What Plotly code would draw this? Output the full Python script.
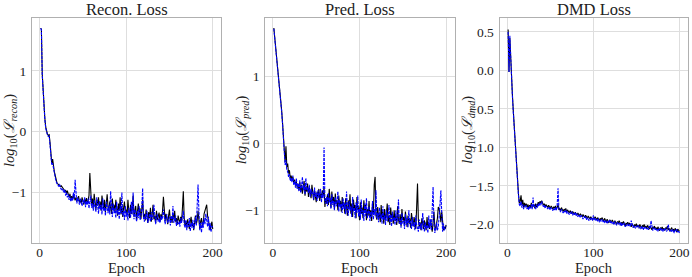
import plotly.graph_objects as go

epochs = list(range(1, 201))

recon_train = [
    1.70, 1.69, 0.95, 0.62, 0.38, 0.22, 0.08, -0.02, -0.04, -0.06, -0.05, -0.18, -0.35, -0.52, -0.45, -0.58, -0.66, -0.72, -0.80, -0.84,
    -0.86, -0.87, -0.88, -0.90, -0.89, -0.92, -0.93, -0.95, -0.98, -0.96, -1.02, -0.97, -1.05, -1.08, -1.02, -1.10, -1.06, -1.12, -1.04, -1.09,
    -1.13, -1.08, -1.15, -1.10, -1.06, -1.16, -1.12, -1.18, -1.08, -1.14, -1.20, -1.11, -1.17, -1.09, -1.19, -1.13, -1.05, -0.68, -1.15, -1.22,
    -1.10, -1.25, -1.02, -1.18, -1.28, -1.12, -1.21, -1.08, -1.26, -1.15, -1.30, -1.05, -1.20, -1.27, -1.12, -1.32, -1.18, -1.03, -1.24, -1.30,
    -1.15, -1.22, -1.35, -1.10, -1.28, -1.20, -1.33, -1.12, -1.26, -1.38, -1.18, -1.30, -1.08, -1.36, -1.22, -1.40, -1.25, -1.15, -1.34, -1.28,
    -1.38, -1.12, -1.30, -1.42, -1.20, -1.35, -1.27, -1.05, -1.40, -1.30, -1.22, -1.45, -1.33, -1.18, -1.38, -1.26, -1.44, -1.30, -1.12, -1.40,
    -1.35, -1.46, -1.28, -1.39, -1.50, -1.32, -1.42, -1.25, -1.48, -1.36, -1.20, -1.44, -1.38, -1.50, -1.30, -1.45, -1.40, -1.33, -1.48, -1.36,
    -1.42, -1.30, -1.07, -1.40, -1.47, -1.35, -1.44, -1.52, -1.38, -1.28, -1.46, -1.41, -1.50, -1.36, -1.44, -1.30, -1.48, -1.42, -1.53, -1.38,
    -1.45, -1.50, -1.40, -1.48, -1.25, -0.98, -1.42, -1.55, -1.47, -1.58, -1.44, -1.52, -1.60, -1.48, -1.40, -1.55, -1.50, -1.62, -1.45, -1.38,
    -1.52, -1.46, -1.30, -1.55, -1.60, -1.48, -1.42, -1.56, -1.50, -1.35, -1.28, -1.22, -1.20, -1.38, -1.45, -1.58, -1.62, -1.55, -1.48, -1.60,
]
recon_val = [
    1.70, 1.68, 0.93, 0.60, 0.36, 0.20, 0.06, -0.03, -0.05, -0.08, -0.07, -0.22, -0.40, -0.55, -0.52, -0.62, -0.70, -0.75, -0.82, -0.86,
    -0.88, -0.90, -0.86, -0.92, -0.95, -0.93, -0.97, -1.00, -0.95, -1.05, -1.00, -1.08, -1.03, -1.12, -1.06, -1.15, -1.08, -1.14, -1.00, -1.10,
    -0.79, -1.12, -1.18, -1.08, -1.15, -1.20, -1.10, -1.16, -1.22, -1.12, -1.18, -1.08, -1.24, -1.14, -1.20, -1.10, -1.26, -1.15, -1.05, -1.25,
    -1.18, -1.30, -1.12, -1.24, -1.32, -1.08, -1.26, -1.35, -1.14, -1.28, -1.20, -1.36, -1.10, -1.30, -1.24, -1.38, -1.15, -1.28, -1.34, -1.22,
    -1.36, -0.98, -1.30, -1.40, -1.18, -1.34, -1.26, -1.42, -1.15, -1.36, -1.28, -1.44, -1.20, -1.35, -1.00, -1.38, -1.30, -1.45, -1.22, -1.40,
    -1.32, -1.46, -1.25, -1.38, -1.42, -1.15, -1.36, -1.00, -1.44, -1.28, -1.40, -1.48, -1.30, -1.42, -1.22, -1.45, -1.38, -1.25, -0.93, -1.42,
    -1.48, -1.36, -1.44, -1.30, -1.50, -1.40, -1.35, -1.48, -1.32, -1.45, -1.38, -1.20, -1.46, -1.52, -1.40, -1.35, -1.48, -1.42, -1.50, -1.38,
    -1.45, -1.40, -1.28, -1.46, -1.52, -1.42, -1.36, -1.50, -1.45, -1.40, -1.54, -1.38, -1.48, -1.22, -1.50, -1.44, -1.38, -1.55, -1.46, -1.52,
    -1.48, -1.56, -1.42, -1.50, -1.38, -1.30, -1.52, -1.58, -1.45, -1.62, -1.50, -1.56, -1.42, -1.64, -1.50, -1.58, -1.45, -1.60, -1.52, -1.40,
    -1.55, -1.25, -0.87, -1.30, -1.62, -1.50, -1.66, -1.48, -1.58, -1.42, -1.52, -1.35, -1.46, -1.56, -1.40, -1.62, -1.50, -1.65, -1.55, -1.58,
]

pred_train = [
    1.73, 1.60, 1.45, 1.32, 1.20, 1.08, 0.97, 0.82, 0.66, 0.50, 0.32, 0.12, -0.10, -0.28, -0.04, -0.35, -0.30, -0.45, -0.40, -0.52,
    -0.48, -0.55, -0.50, -0.60, -0.54, -0.63, -0.57, -0.66, -0.60, -0.70, -0.58, -0.72, -0.62, -0.75, -0.65, -0.56, -0.78, -0.64, -0.72, -0.60,
    -0.80, -0.66, -0.74, -0.82, -0.62, -0.76, -0.85, -0.70, -0.78, -0.88, -0.72, -0.80, -0.68, -0.86, -0.75, -0.82, -0.70, -0.78, -0.65, -0.95,
    -0.82, -0.90, -0.76, -0.92, -0.68, -0.85, -0.96, -0.72, -0.88, -0.80, -0.98, -0.75, -0.90, -0.85, -1.00, -0.78, -0.92, -0.86, -1.02, -0.80,
    -0.95, -0.88, -1.05, -0.82, -0.94, -1.08, -0.85, -0.98, -0.76, -1.05, -0.90, -1.10, -0.84, -0.98, -0.92, -1.12, -0.80, -1.00, -0.94, -1.15,
    -0.88, -1.05, -0.96, -1.12, -0.85, -1.02, -0.92, -1.15, -0.98, -1.08, -0.86, -1.10, -1.00, -1.16, -0.90, -1.05, -0.62, -0.50, -1.08, -1.14,
    -0.95, -1.12, -1.04, -1.18, -0.92, -1.10, -1.02, -1.20, -0.98, -1.15, -1.06, -0.90, -1.18, -1.08, -1.22, -0.96, -1.12, -1.05, -1.20, -1.00,
    -1.16, -1.08, -1.22, -0.94, -1.14, -1.20, -1.06, -1.24, -0.98, -1.15, -1.10, -1.22, -1.02, -1.18, -1.25, -1.08, -1.20, -1.12, -1.26, -1.04,
    -1.18, -1.24, -1.10, -1.20, -1.28, -0.95, -0.60, -1.15, -1.25, -1.18, -1.30, -1.12, -1.22, -1.28, -1.15, -1.24, -1.30, -1.10, -1.26, -1.20,
    -1.28, -1.14, -1.24, -1.32, -1.18, -1.02, -1.25, -1.30, -1.20, -1.12, -0.95, -0.98, -1.05, -1.18, -1.02, -1.22, -1.30, -1.25, -1.28, -1.22,
]
pred_val = [
    1.72, 1.59, 1.44, 1.30, 1.18, 1.06, 0.95, 0.80, 0.64, 0.48, 0.30, 0.10, -0.12, -0.32, -0.25, -0.40, -0.42, -0.50, -0.46, -0.56,
    -0.52, -0.58, -0.48, -0.62, -0.56, -0.66, -0.52, -0.68, -0.60, -0.72, -0.55, -0.74, -0.64, -0.50, -0.70, -0.62, -0.76, -0.52, -0.70, -0.66,
    -0.74, -0.62, -0.80, -0.68, -0.76, -0.72, -0.84, -0.66, -0.80, -0.74, -0.86, -0.70, -0.82, -0.76, -0.68, -0.88, -0.74, -0.82, -0.06, -0.85,
    -0.90, -0.80, -0.94, -0.74, -0.88, -0.82, -0.98, -0.76, -0.92, -0.86, -1.00, -0.80, -0.94, -0.88, -0.72, -1.02, -0.84, -0.96, -0.90, -1.04,
    -0.82, -0.98, -0.90, -1.06, -0.72, -0.96, -1.08, -0.86, -1.00, -0.94, -1.10, -0.80, -1.02, -0.96, -1.12, -0.88, -1.04, -0.78, -1.10, -0.98,
    -1.14, -0.84, -1.06, -1.00, -1.16, -0.90, -1.08, -0.82, -1.12, -1.04, -0.94, -1.16, -1.02, -1.10, -0.86, -1.14, -0.98, -1.08, -0.70, -1.12,
    -1.04, -1.18, -0.96, -1.12, -1.06, -1.20, -0.94, -1.14, -1.08, -1.22, -1.00, -1.16, -1.10, -0.92, -1.18, -1.06, -1.24, -1.02, -1.16, -1.10,
    -1.22, -1.00, -1.18, -1.12, -0.84, -1.20, -1.14, -1.26, -1.04, -1.20, -1.16, -1.28, -1.06, -1.22, -1.12, -1.26, -1.00, -1.20, -1.16, -1.28,
    -1.10, -1.24, -1.18, -1.30, -1.08, -1.22, -1.26, -1.32, -1.14, -1.28, -1.20, -1.30, -1.04, -1.26, -1.32, -1.18, -1.28, -1.22, -1.34, -1.08,
    -1.26, -1.14, -1.30, -0.98, -0.65, -1.22, -1.34, -1.28, -1.18, -1.30, -1.24, -1.10, -0.82, -0.70, -1.05, -1.32, -1.20, -1.30, -1.26, -1.24,
]

dmd_train = [
    0.53, -0.02, 0.42, 0.08, -0.10, -0.32, -0.52, -0.72, -0.92, -1.10, -1.28, -1.45, -1.60, -1.72, -1.70, -1.62, -1.75, -1.68, -1.78, -1.72,
    -1.76, -1.73, -1.78, -1.74, -1.79, -1.75, -1.77, -1.72, -1.78, -1.76, -1.74, -1.79, -1.73, -1.77, -1.75, -1.71, -1.74, -1.70, -1.72, -1.69,
    -1.72, -1.75, -1.73, -1.77, -1.74, -1.76, -1.78, -1.75, -1.77, -1.79, -1.76, -1.78, -1.80, -1.77, -1.79, -1.76, -1.80, -1.78, -1.74, -1.81,
    -1.79, -1.82, -1.78, -1.81, -1.83, -1.80, -1.82, -1.79, -1.84, -1.81, -1.83, -1.85, -1.82, -1.84, -1.86, -1.83, -1.85, -1.87, -1.84, -1.86,
    -1.88, -1.85, -1.87, -1.89, -1.86, -1.88, -1.90, -1.87, -1.89, -1.91, -1.88, -1.90, -1.92, -1.89, -1.91, -1.93, -1.90, -1.92, -1.94, -1.91,
    -1.93, -1.90, -1.92, -1.94, -1.91, -1.93, -1.95, -1.92, -1.94, -1.91, -1.93, -1.96, -1.92, -1.94, -1.97, -1.93, -1.95, -1.98, -1.94, -1.96,
    -1.97, -1.94, -1.96, -1.99, -1.95, -1.97, -2.00, -1.96, -1.98, -1.95, -1.99, -2.01, -1.97, -1.99, -1.96, -2.00, -2.02, -1.98, -2.00, -1.97,
    -2.01, -1.98, -2.00, -2.03, -1.99, -2.01, -2.04, -2.00, -2.02, -1.99, -2.03, -2.01, -2.04, -2.00, -2.02, -2.05, -2.01, -2.03, -2.00, -2.04,
    -2.02, -2.05, -2.01, -2.04, -2.06, -2.02, -2.04, -2.07, -2.03, -2.05, -2.02, -2.06, -2.04, -2.07, -2.03, -2.05, -2.08, -2.04, -2.06, -2.03,
    -2.07, -2.05, -2.08, -2.04, -2.06, -2.02, -2.07, -2.05, -2.09, -2.06, -2.04, -2.08, -2.06, -2.09, -2.05, -2.07, -2.10, -2.06, -2.08, -2.09,
]
dmd_val = [
    0.50, -0.02, 0.45, 0.10, -0.12, -0.34, -0.54, -0.74, -0.94, -1.12, -1.30, -1.47, -1.62, -1.74, -1.76, -1.70, -1.78, -1.74, -1.80, -1.76,
    -1.78, -1.75, -1.80, -1.77, -1.81, -1.76, -1.79, -1.74, -1.80, -1.65, -1.78, -1.76, -1.80, -1.74, -1.78, -1.73, -1.76, -1.72, -1.75, -1.70,
    -1.74, -1.77, -1.75, -1.79, -1.76, -1.78, -1.80, -1.77, -1.79, -1.81, -1.78, -1.80, -1.82, -1.79, -1.81, -1.78, -1.82, -1.74, -1.53, -1.80,
    -1.81, -1.84, -1.80, -1.83, -1.85, -1.82, -1.84, -1.81, -1.86, -1.83, -1.85, -1.87, -1.84, -1.86, -1.83, -1.88, -1.85, -1.87, -1.84, -1.89,
    -1.86, -1.90, -1.87, -1.89, -1.91, -1.88, -1.90, -1.93, -1.89, -1.92, -1.90, -1.94, -1.91, -1.93, -1.95, -1.92, -1.94, -1.91, -1.95, -1.88,
    -1.94, -1.92, -1.95, -1.93, -1.96, -1.92, -1.97, -1.94, -1.96, -1.93, -1.97, -1.95, -1.98, -1.94, -1.96, -1.99, -1.95, -1.97, -1.94, -1.98,
    -1.96, -1.99, -1.97, -2.00, -1.96, -1.99, -2.01, -1.97, -2.00, -1.98, -2.01, -1.97, -2.02, -1.99, -2.01, -1.98, -2.03, -2.00, -2.02, -1.99,
    -2.02, -2.00, -2.03, -1.95, -2.01, -2.04, -2.01, -2.03, -2.05, -2.02, -2.04, -2.01, -2.05, -2.03, -2.06, -2.02, -2.04, -2.07, -2.03, -2.05,
    -2.03, -2.06, -2.04, -2.07, -2.02, -2.05, -1.95, -2.06, -2.08, -2.04, -2.07, -2.05, -2.08, -2.06, -2.09, -2.05, -2.07, -2.04, -2.08, -2.06,
    -2.09, -2.06, -2.08, -2.05, -2.09, -2.07, -2.00, -2.06, -2.09, -2.07, -2.10, -2.06, -2.08, -2.11, -2.07, -2.09, -2.06, -2.10, -2.08, -2.11,
]

titles = ["Recon. Loss", "Pred. Loss", "DMD Loss"]
ylabels = [
    "<i>log</i><sub>10</sub>(<i>ℒ</i><sub><i>recon</i></sub>)",
    "<i>log</i><sub>10</sub>(<i>ℒ</i><sub><i>pred</i></sub>)",
    "<i>log</i><sub>10</sub>(<i>ℒ</i><sub><i>dmd</i></sub>)",
]
xlabel = "Epoch"

W, H = 692, 277
FONT = "Liberation Serif"
panels = [
    (recon_train, recon_val, (32, 222), (-1.83, 1.87), [-1, 0, 1], "d", 10),
    (pred_train, pred_val, (266, 456), (-1.49, 1.88), [-1, 0, 1], "d", 243),
    (dmd_train, dmd_val, (501, 690), (-2.24, 0.68), [-2.0, -1.5, -1.0, -0.5, 0.0, 0.5], ".1f", 469),
]
top_px, bot_px = 18, 243

fig = go.Figure()
annotations = []
for i, (tr, va, (x0, x1), yr, yt, fmt, ylab_x) in enumerate(panels):
    n = "" if i == 0 else str(i + 1)
    fig.add_trace(go.Scatter(x=epochs, y=tr, mode="lines", xaxis="x" + n, yaxis="y" + n,
                             line=dict(color="black", width=1.1), showlegend=False))
    fig.add_trace(go.Scatter(x=epochs, y=va, mode="lines", xaxis="x" + n, yaxis="y" + n,
                             line=dict(color="#0000ff", width=1.1, dash="3px,1px"), showlegend=False))
    axcommon = dict(showgrid=True, gridcolor="#dedede", gridwidth=1, zeroline=False,
                    showline=True, linecolor="#b0b0b0", linewidth=1, mirror=True,
                    ticks="", tickfont=dict(family=FONT, size=13.5, color="#222"))
    fig.layout["xaxis" + n] = dict(axcommon, domain=[x0 / W, x1 / W], range=[-8.95, 209.95],
                                   tickvals=[0, 100, 200], anchor="y" + n, ticklabelstandoff=-3)
    fig.layout["yaxis" + n] = dict(axcommon, domain=[1 - bot_px / H, 1 - top_px / H], range=list(yr),
                                   tickvals=yt, tickformat=fmt, anchor="x" + n, ticklabelstandoff=2)
    cx = (x0 + x1) / 2 / W
    annotations.append(dict(text=titles[i], x=cx, y=1 - 9 / H, xref="paper", yref="paper",
                            showarrow=False, font=dict(family=FONT, size=16.5, color="#222"),
                            xanchor="center", yanchor="middle"))
    annotations.append(dict(text=xlabel, x=cx, y=1 - 268 / H, xref="paper", yref="paper",
                            showarrow=False, font=dict(family=FONT, size=14.5, color="#222"),
                            xanchor="center", yanchor="middle"))
    annotations.append(dict(text=ylabels[i], x=ylab_x / W, y=1 - 130 / H, xref="paper", yref="paper",
                            showarrow=False, textangle=-90, font=dict(family=FONT, size=14.5, color="#222"),
                            xanchor="center", yanchor="middle"))

fig.update_layout(width=W, height=H, margin=dict(l=0, r=0, t=0, b=0),
                  plot_bgcolor="white", paper_bgcolor="white", annotations=annotations)
fig.write_html("out.html", config={"displayModeBar": False},
               post_script="document.body.style.margin='0';document.body.style.overflow='hidden';")
